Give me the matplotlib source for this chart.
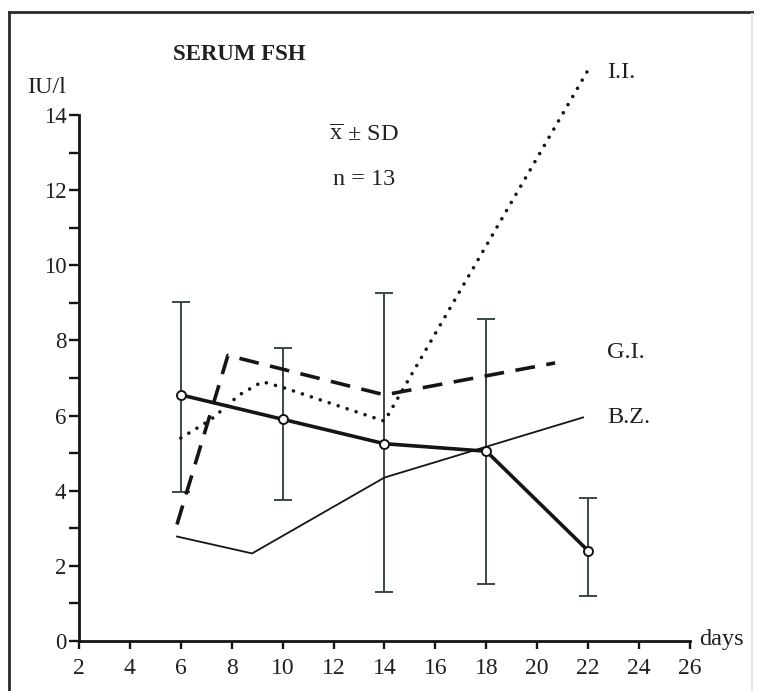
import matplotlib.pyplot as plt
from matplotlib.lines import Line2D
from matplotlib.ticker import FixedLocator
import numpy as np

plt.rcParams['font.family'] = ['Liberation Serif', 'DejaVu Serif']
plt.rcParams['mathtext.fontset'] = 'custom'
plt.rcParams['mathtext.rm'] = 'Liberation Serif'

# mean +- SD (thick line with open circles)
mean_days = [6, 10, 14, 18, 22]
mean_fsh = [6.55, 5.9, 5.25, 5.05, 2.4]
sd_upper = [9.02, 7.8, 9.26, 8.56, 3.8]
sd_lower = [3.97, 3.75, 1.3, 1.52, 1.2]

# I.I. (dotted)
days_ii = [6, 7.2, 8.3, 9.2, 10, 14, 22]
fsh_ii = [5.4, 5.9, 6.55, 6.9, 6.75, 5.85, 15.2]

# G.I. (dashed)
days_gi = [5.85, 7.85, 14, 20.7]
fsh_gi = [3.1, 7.6, 6.55, 7.4]

# B.Z. (thin solid)
days_bz = [5.85, 8.8, 14, 21.8]
fsh_bz = [2.78, 2.33, 4.35, 5.95]

x_ticks = list(range(2, 27, 2))
y_ticks = list(range(0, 15, 2))
y_minor = list(range(1, 14, 2))

fig = plt.figure(figsize=(7.6, 6.91), dpi=100)
ax = fig.add_axes([0.1039, 0.0724, 0.804, 0.870])

ink = '#151515'
bar_col = '#3b4842'
txt = '#202020'

mean_arr = np.array(mean_fsh)
yerr = [mean_arr - np.array(sd_lower), np.array(sd_upper) - mean_arr]
ax.errorbar(mean_days, mean_fsh, yerr=yerr, fmt='none', ecolor=bar_col,
            elinewidth=1.4, capsize=6.5, capthick=1.4, zorder=2)

ax.plot(days_bz, fsh_bz, color=ink, lw=1.3, zorder=3)
ax.plot(days_gi, fsh_gi, color=ink, lw=2.6, linestyle=(0, (5.5, 3.2)), zorder=3)
ax.plot(days_ii, fsh_ii, color=ink, lw=2.6, linestyle=(0, (0.01, 2.6)),
        dash_capstyle='round', zorder=3)
ax.plot(mean_days, mean_fsh, color=ink, lw=2.6, marker='o', ms=6.5,
        mfc='white', mec=ink, mew=1.4, zorder=4)

ax.set_xlim(2, 26)
ax.set_ylim(0, 16)
for s in ['top', 'right']:
    ax.spines[s].set_visible(False)
ax.spines['left'].set_bounds(0, 14)
for s in ['left', 'bottom']:
    ax.spines[s].set_linewidth(2.0)
    ax.spines[s].set_color(ink)

ax.set_xticks(x_ticks)
ax.set_yticks(y_ticks)
ax.yaxis.set_minor_locator(FixedLocator(y_minor))
ax.tick_params(axis='both', which='both', direction='out', width=1.7, color=ink,
               labelcolor=txt)
ax.tick_params(axis='y', which='both', length=7, pad=2, labelsize=16.5)
ax.tick_params(axis='x', length=6, pad=6, labelsize=17)

ax.text(26.35, 0.05, 'days', fontsize=17.5, color=txt, ha='left', va='center')
ax.text(-0.05, 14.72, 'IU/l', fontsize=17.5, color=txt, ha='left', va='center')
ax.text(5.69, 15.6, 'SERUM FSH', fontsize=16.5, fontweight='bold', color=txt,
        ha='left', va='center')
ax.text(13.2, 13.45, r'$\overline{\mathrm{x}}$ $\pm$ SD', fontsize=17.5, color=txt,
        ha='center', va='center')
ax.text(13.2, 12.27, 'n = 13', fontsize=17.5, color=txt, ha='center', va='center')
ax.text(22.74, 15.12, 'I.I.', fontsize=17.5, color=txt, ha='left', va='center')
ax.text(22.74, 7.67, 'G.I.', fontsize=17.5, color=txt, ha='left', va='center')
ax.text(22.74, 5.96, 'B.Z.', fontsize=17.5, color=txt, ha='left', va='center')

# frame around the panel (bottom edge cut off)
top_y = 1 - 12 / 691
frame = dict(color='#2a2a2a', lw=2.0, transform=fig.transFigure)
fig.add_artist(Line2D([9 / 760, 9 / 760], [0, top_y], **frame))
fig.add_artist(Line2D([9 / 760, 752 / 760], [top_y, top_y], **frame))
fig.add_artist(Line2D([752 / 760, 752 / 760], [0, top_y - 0.003], color='#dfe6e3', lw=1.5,
                      transform=fig.transFigure))

fig.savefig('out.png', dpi=100)
